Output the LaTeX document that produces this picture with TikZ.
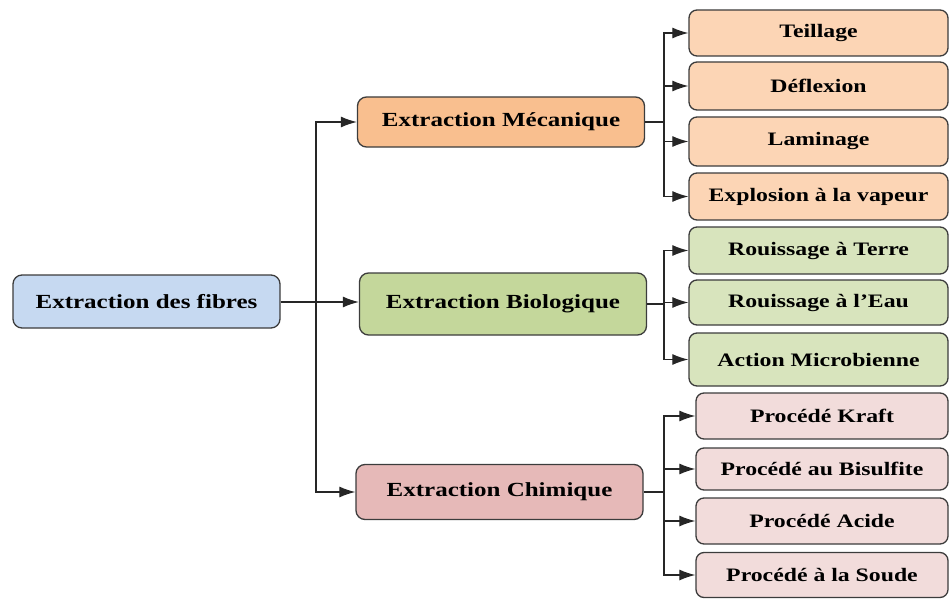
\documentclass[tikz,border=0pt]{standalone}
\usepackage{fontspec}
\setmainfont[FakeStretch=1.25]{Liberation Serif}
\usetikzlibrary{arrows.meta}
\definecolor{rootblue}{HTML}{C6D9F1}
\definecolor{mecaor}{HTML}{F9BF8F}
\definecolor{mecaleaf}{HTML}{FCD5B5}
\definecolor{biogr}{HTML}{C4D79B}
\definecolor{bioleaf}{HTML}{D8E4BD}
\definecolor{chimrd}{HTML}{E6B9B8}
\definecolor{chimleaf}{HTML}{F2DCDB}
\definecolor{edge}{HTML}{3C3C3C}

\begin{document}
\begin{tikzpicture}[x=1pt,y=-1pt,
  box/.style={draw=edge,line width=1.3pt,rounded corners=9pt,inner sep=0pt,
    font=\fontsize{20}{24}\selectfont\bfseries},
  rootbox/.style={box,fill=rootblue,minimum width=267pt,minimum height=53pt},
  subbox/.style={box,fill=#1,minimum width=287pt},
  leafbox/.style={box,fill=#1,rounded corners=8pt,font=\fontsize{19}{23}\selectfont\bfseries},
  link/.style={line width=1.2pt,draw=black!85},
  arr/.style={link,-{Latex[length=16pt,width=11pt]}}]
      \useasboundingbox (0,0) rectangle (950,599);
      % racine et familles
      \node[rootbox] (root) at (146.5,301.5) {Extraction des fibres};
      \node[subbox=mecaor,minimum height=50pt] (meca) at (501,122) {Extraction Mécanique};
      \node[subbox=biogr,minimum height=62pt] (bio) at (503,304) {Extraction Biologique};
      \node[subbox=chimrd,minimum height=55pt] (chim) at (499.5,492) {Extraction Chimique};
      % procédés mécaniques
      \node[leafbox=mecaleaf,minimum width=259pt,minimum height=46pt] (teil) at (818.5,33) {Teillage};
      \node[leafbox=mecaleaf,minimum width=259pt,minimum height=48pt] (defl) at (818.5,86) {Déflexion};
      \node[leafbox=mecaleaf,minimum width=259pt,minimum height=49pt] (lami) at (818.5,141.5) {Laminage};
      \node[leafbox=mecaleaf,minimum width=259pt,minimum height=47pt] (expl) at (818.5,196.5) {Explosion à la vapeur};
      % procédés biologiques
      \node[leafbox=bioleaf,minimum width=259pt,minimum height=47pt] (terre) at (818.5,250.5) {Rouissage à Terre};
      \node[leafbox=bioleaf,minimum width=259pt,minimum height=45pt] (eau) at (818.5,302.5) {Rouissage à l’Eau};
      \node[leafbox=bioleaf,minimum width=259pt,minimum height=53pt] (micro) at (818.5,359.5) {Action Microbienne};
      % procédés chimiques
      \node[leafbox=chimleaf,minimum width=252pt,minimum height=46pt] (kraft) at (822,416) {Procédé Kraft};
      \node[leafbox=chimleaf,minimum width=252pt,minimum height=42pt] (bisul) at (822,469) {Procédé au Bisulfite};
      \node[leafbox=chimleaf,minimum width=252pt,minimum height=46pt] (acide) at (822,521) {Procédé Acide};
      \node[leafbox=chimleaf,minimum width=252pt,minimum height=45pt] (soude) at (822,575) {Procédé à la Soude};
      % liaisons
      \coordinate (hub) at (316,302);
      \coordinate (mbus) at (664,122);
      \coordinate (bbus) at (664,304);
      \coordinate (cbus) at (664,492);
      \draw[arr] (root.east |- hub) -- (bio.west |- hub);
      \draw[arr] (hub) |- (meca.west);
      \draw[arr] (hub) |- (chim.west);
      \draw[link] (meca.east) -- (mbus);
      \draw[link] (bio.east) -- (bbus);
      \draw[link] (chim.east) -- (cbus);
      \foreach \n in {teil,defl,lami,expl} \draw[arr] (mbus) |- (\n.west);
      \foreach \n in {terre,eau,micro} \draw[arr] (bbus) |- (\n.west);
      \foreach \n in {kraft,bisul,acide,soude} \draw[arr] (cbus) |- (\n.west);
    \end{tikzpicture}
\end{document}
